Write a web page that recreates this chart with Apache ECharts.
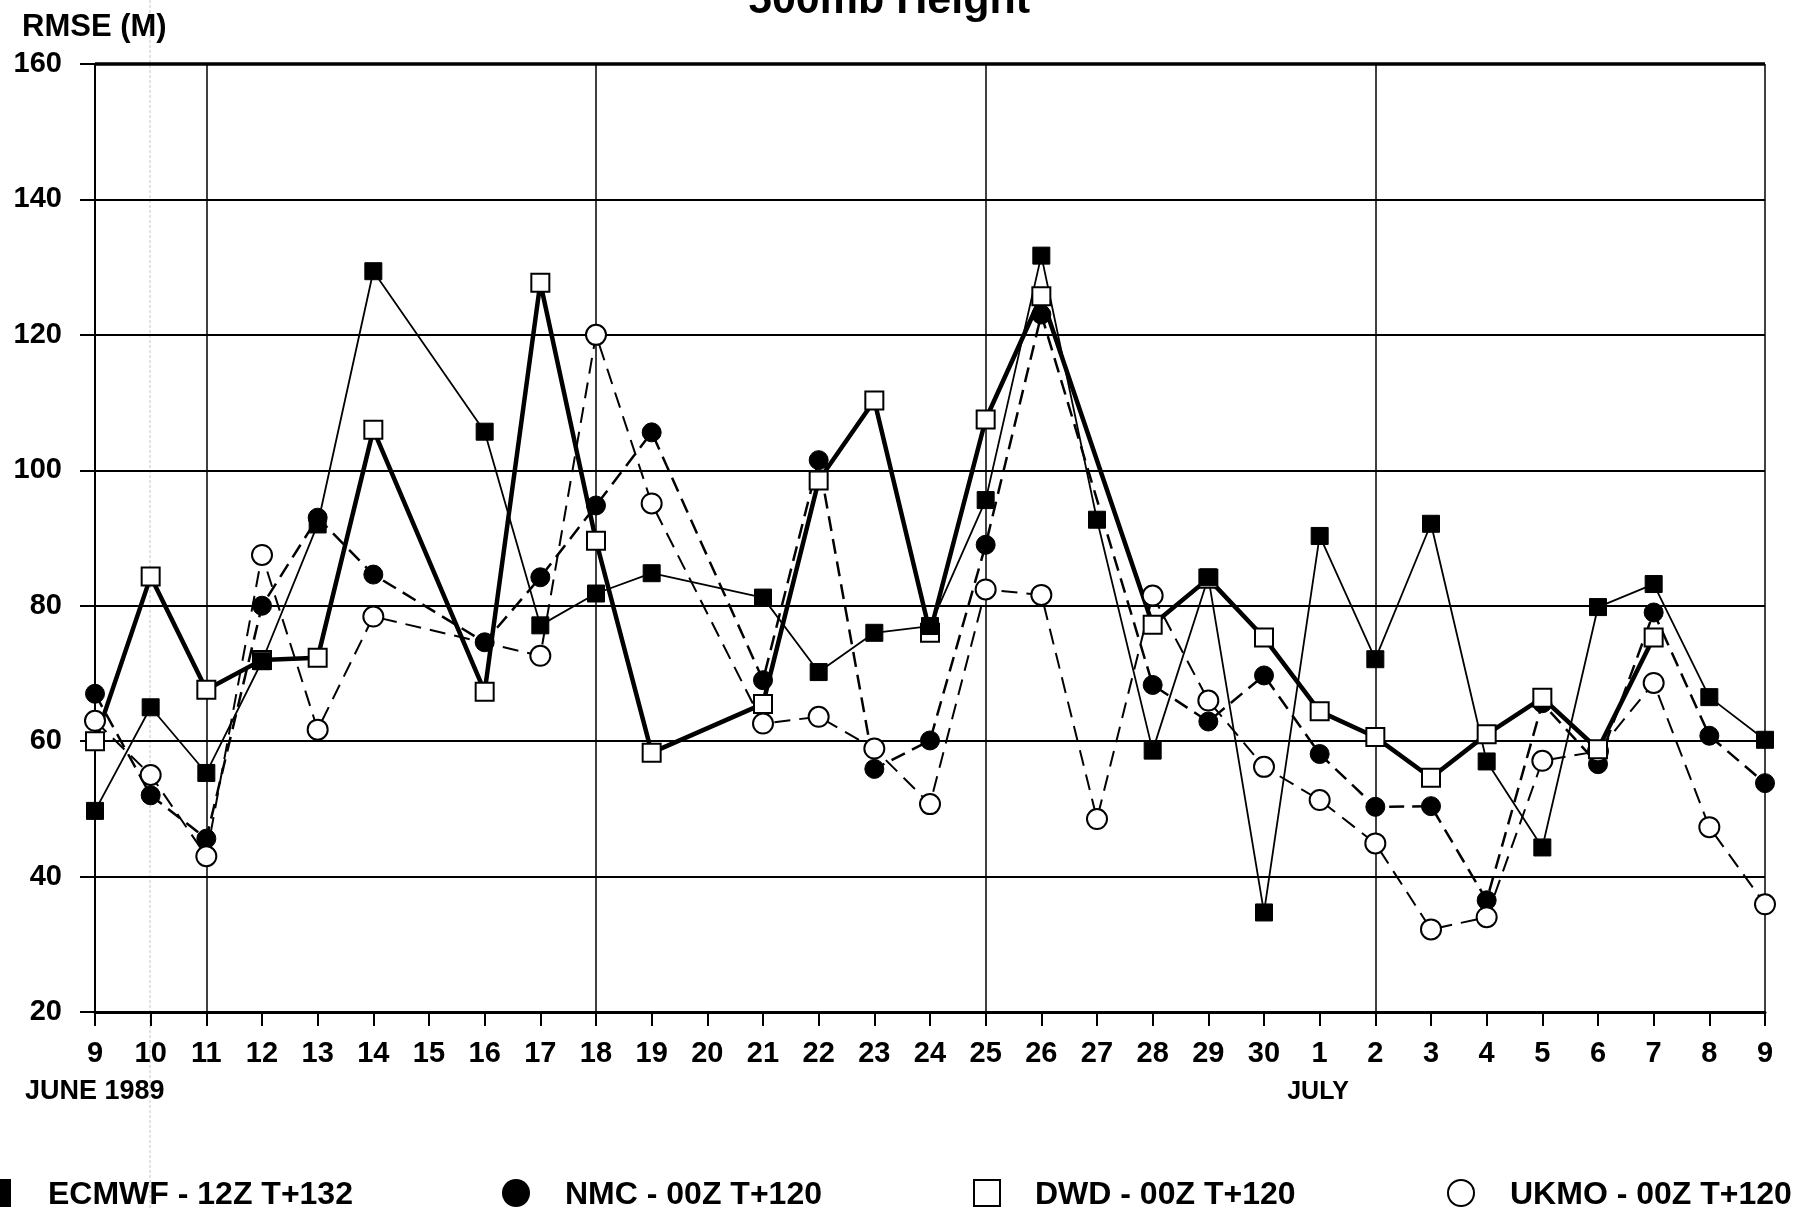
<!DOCTYPE html>
<html><head><meta charset="utf-8">
<script src="https://cdn.jsdelivr.net/npm/echarts@6/dist/echarts.min.js"></script>
<style>html,body{margin:0;padding:0;background:#fff}#c{width:1799px;height:1210px}</style>
</head><body><div id="c"></div>
<script>
// ---- data ----
const days = ['9','10','11','12','13','14','15','16','17','18','19','20','21','22','23','24','25','26','27','28','29','30','1','2','3','4','5','6','7','8','9'];
const ecmwf = [49.7,65,55.3,71.8,92,129.4,null,105.7,77.1,81.8,84.8,null,81.2,70.2,76,77,95.6,131.7,92.7,58.6,84.2,34.7,90.3,72.1,92.1,57,44.3,79.8,83.2,66.5,60.2];
const nmc   = [67,52,45.6,80,93,84.6,null,74.6,84.2,94.8,105.6,null,69,101.5,55.9,60.1,89,123,null,68.3,62.9,69.7,58.1,50.3,50.4,36.5,65.6,56.6,79,60.8,53.8];
const dwd   = [60,84.3,67.6,72,72.3,106,null,67.3,127.7,89.6,58.3,null,65.5,98.5,110.3,76,107.5,125.7,null,77.2,84,75.3,64.4,60.6,54.6,61,66.4,58.8,75.3,null,null];
const ukmo  = [63,55,43,87.5,61.7,78.4,null,null,72.6,120,95.1,null,62.6,63.6,58.9,50.7,82.4,81.6,48.5,81.5,66,56.2,51.3,44.9,32.2,34,57.1,58.5,68.6,47.3,35.9];
const seriesNames = ['ECMWF - 12Z T+132','NMC - 00Z T+120','DWD - 00Z T+120','UKMO - 00Z T+120'];
const titleText = '500mb Height';
const yTitle = 'RMSE (M)';
const monthLabels = ['JUNE 1989','JULY'];
const weekLineIdx = [2,9,16,23,30];
const yMin = 20, yMax = 160, yStep = 20;

// ---- chart ----
const F = "'Liberation Sans',Arial,Helvetica,sans-serif";
const chart = echarts.init(document.getElementById('c'), null, {renderer:'canvas'});
const blk = '#000';
function txt(text, x, y, size, align, valign){
  return {type:'text', x:x, y:y, silent:true, z:50,
    style:{text:text, fill:blk, fontFamily:F, fontWeight:'bold', fontSize:size, align:align||'left', verticalAlign:valign||'middle'}};
}
const legendY = 1193;
const graphics = [
  {type:'line', silent:true, z:-1, shape:{x1:150,y1:0,x2:150,y2:1210}, style:{stroke:'#c4c4c4', lineWidth:1, lineDash:[3,2]}},
  txt(titleText, 889, 23, 43, 'center', 'bottom'),
  txt(yTitle, 22, 27, 31, 'left', 'middle'),
  txt(monthLabels[0], 25, 1092, 27, 'left', 'middle'),
  txt(monthLabels[1], 1318, 1092, 25, 'center', 'middle'),
  {type:'rect', silent:true, shape:{x:-17,y:legendY-14,width:28,height:28}, style:{fill:blk}},
  txt(seriesNames[0], 48, legendY+2, 32),
  {type:'circle', silent:true, shape:{cx:516,cy:legendY,r:14}, style:{fill:blk}},
  txt(seriesNames[1], 565, legendY+2, 32),
  {type:'rect', silent:true, shape:{x:974,y:legendY-13,width:26,height:26}, style:{fill:'#fff', stroke:blk, lineWidth:2}},
  txt(seriesNames[2], 1035, legendY+2, 32),
  {type:'circle', silent:true, shape:{cx:1461,cy:legendY,r:13}, style:{fill:'#fff', stroke:blk, lineWidth:2}},
  txt(seriesNames[3], 1510, legendY+2, 32)
];

function lineSeries(name, data, symbol, fill, size, width, dash){
  return {
    name:name, type:'line', data:data, connectNulls:true, symbol:symbol, symbolSize:size,
    showAllSymbol:true, animation:false,
    itemStyle:{color:fill, borderColor:blk, borderWidth:fill==='#fff'?2:1},
    lineStyle:{color:blk, width:width, type:dash||'solid'},
    emphasis:{disabled:true}
  };
}
const sNmc  = lineSeries(seriesNames[1], nmc, 'circle', blk, 19, 2.5, [15,8]);
const sUkmo = lineSeries(seriesNames[3], ukmo, 'circle', '#fff', 20, 2, [16,9]);
const sDwd  = lineSeries(seriesNames[2], dwd, 'rect', '#fff', 18, 4.5);
const sEc   = lineSeries(seriesNames[0], ecmwf, 'rect', blk, 17, 1.8);
sEc.markLine = {silent:true, symbol:'none', animation:false, label:{show:false},
  lineStyle:{color:blk, width:3.5, type:'solid'}, data:[{yAxis:yMax}]};

chart.setOption({
  animation:false,
  backgroundColor:'#fff',
  tooltip:{show:false},
  grid:{left:95, right:34, top:64, bottom:198, containLabel:false, outerBoundsMode:'none'},
  xAxis:{type:'category', data:days, boundaryGap:false,
    axisLine:{lineStyle:{color:blk, width:3}},
    axisTick:{show:true, interval:0, length:14, lineStyle:{color:blk, width:2}},
    axisLabel:{interval:0, color:blk, fontFamily:F, fontWeight:'bold', fontSize:29, margin:27, hideOverlap:false},
    splitLine:{show:true, interval:function(i){return weekLineIdx.indexOf(i)>=0;}, lineStyle:{color:blk, width:1.5}}
  },
  yAxis:{type:'value', min:yMin, max:yMax, interval:yStep,
    axisLine:{show:true, lineStyle:{color:blk, width:2}},
    axisTick:{show:true, length:15, lineStyle:{color:blk, width:2}},
    axisLabel:{color:blk, fontFamily:F, fontWeight:'bold', fontSize:29, margin:33},
    splitLine:{show:true, lineStyle:{color:blk, width:2}}
  },
  graphic:graphics,
  series:[sNmc, sUkmo, sDwd, sEc]
});
</script>
</body></html>
